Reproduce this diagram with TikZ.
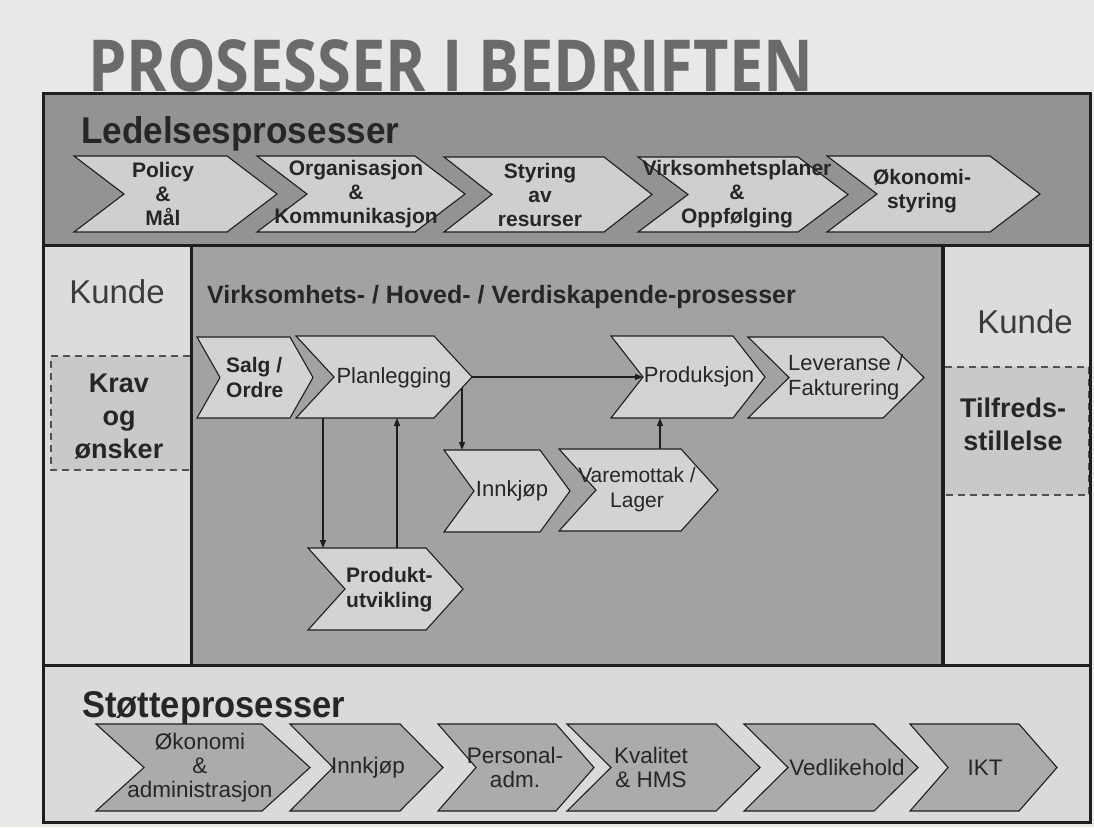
\documentclass[tikz,border=0pt]{standalone}
\usepackage{fontspec}
\setmainfont{Liberation Sans}
\newfontfamily\titlefont{Open Sans}
\usetikzlibrary{arrows.meta,calc}

\definecolor{paper}{HTML}{E8E8E6}
\definecolor{topbg}{HTML}{939393}
\definecolor{topfill}{HTML}{CFCFCF}
\definecolor{midbg}{HTML}{A2A2A2}
\definecolor{midfill}{HTML}{D3D3D3}
\definecolor{kundebg}{HTML}{DCDCDA}
\definecolor{dashbg}{HTML}{C9C9C8}
\definecolor{botbg}{HTML}{DADAD8}
\definecolor{botfill}{HTML}{ABABAB}
\definecolor{ink}{HTML}{262626}
\definecolor{titlegray}{HTML}{6A6A6A}
\definecolor{rule}{HTML}{1E1E1E}

% chevron: name, fill style, left, top, right, bottom, pointer depth
\newcommand\chevshape[7]{%
  \path[chevron,#2] (#3,#4) -- (#5,#4) -- ({#5+#7},{(#4+#6)/2}) -- (#5,#6)
    -- (#3,#6) -- ({#3+#7},{(#4+#6)/2}) -- cycle;
  \node[chevbody,minimum width={(#5-#3)*1pt},minimum height={(#6-#4)*1pt}]
    (#1) at ({(#3+#5)/2},{(#4+#6)/2}) {};
  \coordinate (#1-tip) at ({#5+#7},{(#4+#6)/2});
  \coordinate (#1-notch) at ({#3+#7},{(#4+#6)/2});
}

\begin{document}
\begin{tikzpicture}[x=1pt,y=-1pt,
  chevron/.style={draw=rule,line width=1.1pt,line join=miter},
  topchev/.style={fill=topfill},
  midchev/.style={fill=midfill},
  botchev/.style={fill=botfill},
  chevbody/.style={inner sep=0pt,outer sep=0pt},
  toptxt/.style={font=\fontsize{21}{24}\selectfont\bfseries,text=ink,align=center,inner sep=0pt},
  midtxt/.style={font=\fontsize{22}{25}\selectfont,text=ink,align=center,inner sep=0pt},
  midbold/.style={font=\fontsize{21}{25}\selectfont\bfseries,text=ink,align=left,inner sep=0pt},
  bottxt/.style={font=\fontsize{22.5}{24}\selectfont,text=ink,align=center,inner sep=0pt},
  sidetxt/.style={font=\fontsize{27}{33}\selectfont\bfseries,text=ink,align=center,inner sep=0pt},
  kunde/.style={font=\fontsize{33}{36}\selectfont,text=ink!90,inner sep=0pt},
  frame/.style={draw=rule,line width=3pt},
  dashedge/.style={draw=ink!80,line width=1.1pt,dash pattern=on 7pt off 5pt},
  arr/.style={draw=rule,line width=1.1pt,-{Triangle[length=8pt,width=6pt]}}
]
\useasboundingbox (0,0) rectangle (1094,827);
\fill[paper] (0,0) rectangle (1094,827);

% ---- title
\node[anchor=base west,inner sep=0pt,text=titlegray] (title) at (88,91)
  {\resizebox{725pt}{52pt}{\titlefont\bfseries PROSESSER I BEDRIFTEN}};

% ---- panels
\fill[topbg] (43,93) rectangle (1090,245);
\fill[kundebg] (43,245) rectangle (191,665);
\fill[midbg] (191,245) rectangle (943,665);
\fill[kundebg] (943,245) rectangle (1090,665);
\fill[botbg] (43,665) rectangle (1090,822);

% customer requirement / satisfaction bands
\fill[dashbg] (51,356) rectangle (190,470);
\draw[dashedge] (190,356) -- (51,356) -- (51,470) -- (190,470);
\fill[dashbg] (945,367) rectangle (1089,495);
\draw[dashedge] (945,367) -- (1089,367) -- (1089,495) -- (945,495);

\draw[frame] (43,93) rectangle (1090,822);
\draw[frame] (43,245) -- (1090,245);
\draw[frame] (43,665) -- (1090,665);
\draw[frame] (191,245) -- (191,665);
\draw[draw=rule,line width=4.5pt] (943,245) -- (943,665);

% ---- headings
\node[anchor=base west,inner sep=0pt,text=ink] (lede) at (81,143)
  {\resizebox{318pt}{27pt}{\bfseries Ledelsesprosesser}};
\node[anchor=base west,inner sep=0pt,text=ink] (stotte) at (82,717)
  {\resizebox{263pt}{26pt}{\bfseries Støtteprosesser}};
\node[anchor=base west,inner sep=0pt,text=ink,font=\fontsize{25}{30}\selectfont\bfseries]
  (hoved) at (207,303) {Virksomhets- / Hoved- / Verdiskapende-prosesser};

\node[kunde,anchor=base] (kundeL) at (117,303) {Kunde};
\node[kunde,anchor=base] (kundeR) at (1025,333) {Kunde};
\node[sidetxt] (krav) at (119,417) {Krav\\og\\ønsker};
\node[sidetxt] (tilfreds) at (1013,424) {Tilfreds-\\stillelse};

% ---- management processes
\chevshape{policy}{topchev}{74}{156}{227}{232}{50}
\chevshape{org}{topchev}{257}{156}{415}{232}{50}
\chevshape{styr}{topchev}{444}{157}{604}{232}{48}
\chevshape{virk}{topchev}{638}{157}{798}{232}{50}
\chevshape{okon}{topchev}{827}{156}{990}{232}{50}
\node[toptxt] (policy-t) at (163,0 |- policy.center) {Policy\\\&\\Mål};
\node[toptxt] (org-t) at (356,0 |- org.center) {Organisasjon\\\&\\Kommunikasjon};
\node[toptxt] (styr-t) at (540,0 |- styr.center) {Styring\\av\\resurser};
\node[toptxt] (virk-t) at (737,0 |- virk.center) {Virksomhetsplaner\\\&\\Oppfølging};
\node[toptxt] (okon-t) at (922,191) {Økonomi-\\styring};

% ---- core processes
\chevshape{salg}{midchev}{197}{337}{290}{418}{23}
\chevshape{plan}{midchev}{296}{336}{434}{418}{38}
\chevshape{prod}{midchev}{611}{336}{733}{418}{32}
\chevshape{lev}{midchev}{748}{337}{883}{418}{41}
\chevshape{innk}{midchev}{444}{450}{540}{532}{30}
\chevshape{vare}{midchev}{559}{449}{681}{531}{37}
\chevshape{produ}{midchev}{308}{548}{426}{630}{37}

\node[midbold,anchor=west] (salg-t) at (226,377) {Salg /\\Ordre};
\node[midtxt] (plan-t) at (394,378) {Planlegging};
\node[midtxt] (prod-t) at (699,377) {Produksjon};
\node[midtxt,align=left,anchor=west] (lev-t) at (788,377) {Leveranse /\\Fakturering};
\node[midtxt] (innk-t) at (512,491) {Innkjøp};
\node[midtxt,font=\fontsize{21}{25}\selectfont] (vare-t) at (637,490) {Varemottak /\\Lager};
\node[midbold,anchor=west] (produ-t) at (346,590) {Produkt-\\utvikling};

\draw[arr] (plan-tip) -- (prod-notch);
\coordinate (pd1) at (323,0 |- plan.south);
\draw[arr] (pd1) -- (pd1 |- produ.north);
\coordinate (pu1) at (397,0 |- produ.north);
\draw[arr] (pu1) -- (pu1 |- plan.south);
\coordinate (pi1) at ($(plan-tip)+(-10,11)$);
\draw[arr] (pi1) -- (pi1 |- innk.north);
\coordinate (vp1) at (660,0 |- vare.north);
\draw[arr] (vp1) -- (vp1 |- prod.south);

% ---- support processes
\chevshape{okon2}{botchev}{96}{724}{262}{811}{48}
\chevshape{innk2}{botchev}{290}{724}{400}{811}{43}
\chevshape{pers}{botchev}{438}{724}{556}{811}{38}
\chevshape{kval}{botchev}{567}{724}{716}{811}{44}
\chevshape{vedl}{botchev}{744}{724}{874}{811}{44}
\chevshape{ikt}{botchev}{910}{724}{1019}{811}{38}
\node[bottxt] (okon2-t) at (200,0 |- okon2.center) {Økonomi\\\&\\administrasjon};
\node[bottxt] (innk2-t) at (368,0 |- innk2.center) {Innkjøp};
\node[bottxt] (pers-t) at (515,0 |- pers.center) {Personal-\\adm.};
\node[bottxt] (kval-t) at (651,0 |- kval.center) {Kvalitet\\\& HMS};
\node[bottxt] (vedl-t) at (847,0 |- vedl.center) {Vedlikehold};
\node[bottxt] (ikt-t) at (985,0 |- ikt.center) {IKT};
\end{tikzpicture}
\end{document}
